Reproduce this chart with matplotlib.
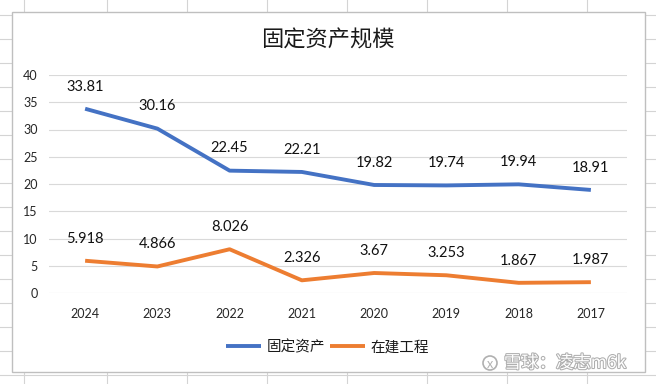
import matplotlib
matplotlib.use("Agg")
import matplotlib.pyplot as plt
from matplotlib.lines import Line2D
from matplotlib.patches import Rectangle, Ellipse
import matplotlib.patheffects as pe

plt.rcParams['font.family'] = ['Lato', 'Noto Sans CJK SC', 'DejaVu Sans']

# data
years = ['2024', '2023', '2022', '2021', '2020', '2019', '2018', '2017']
fixed_assets = [33.81, 30.16, 22.45, 22.21, 19.82, 19.74, 19.94, 18.91]
construction = [5.918, 4.866, 8.026, 2.326, 3.67, 3.253, 1.867, 1.987]
fixed_labels = ['33.81', '30.16', '22.45', '22.21', '19.82', '19.74', '19.94', '18.91']
constr_labels = ['5.918', '4.866', '8.026', '2.326', '3.67', '3.253', '1.867', '1.987']
y_ticks = [0, 5, 10, 15, 20, 25, 30, 35, 40]

W, H = 656, 384
BLUE = '#4472C4'
ORANGE = '#ED7D31'
CJK = ['Noto Sans CJK SC', 'DejaVu Sans']


def fx(px):
    return px / W


def fy(py):
    return 1 - py / H


fig = plt.figure(figsize=(W / 100, H / 100), dpi=100)
fig.patch.set_facecolor('white')

# spreadsheet cells behind the chart
for cx in [24, 107, 187, 267, 347, 427, 507, 587]:
    fig.add_artist(Line2D([fx(cx), fx(cx)], [0, 1], color='#D4D4D4', lw=0.8,
                          transform=fig.transFigure, zorder=-3))
for cy in range(15, H, 24):
    fig.add_artist(Line2D([0, 1], [fy(cy), fy(cy)], color='#D4D4D4', lw=0.8,
                          transform=fig.transFigure, zorder=-3))

# chart area
fig.add_artist(Rectangle((fx(12), fy(372)), fx(645) - fx(12), fy(12) - fy(372),
                         facecolor='white', edgecolor='#BFBFBF', lw=1.0,
                         transform=fig.transFigure, zorder=-2))

ax = fig.add_axes([fx(49), fy(293), fx(627) - fx(49), fy(75) - fy(293)])
ax.set_facecolor('none')
ax.set_zorder(1)

x = list(range(len(years)))
ax.plot(x, fixed_assets, color=BLUE, lw=2.8, solid_capstyle='butt', label='固定资产')
ax.plot(x, construction, color=ORANGE, lw=2.8, solid_capstyle='butt', label='在建工程')

for xi, v, s in zip(x, fixed_assets, fixed_labels):
    ax.annotate(s, (xi, v), xytext=(0, 16), textcoords='offset points',
                ha='center', va='center', fontsize=10.5, color='#111111')
for xi, v, s in zip(x, construction, constr_labels):
    ax.annotate(s, (xi, v), xytext=(0, 16), textcoords='offset points',
                ha='center', va='center', fontsize=10.5, color='#111111')

ax.set_xlim(-0.5, len(years) - 0.5)
ax.set_ylim(0, 40)
ax.set_yticks(y_ticks)
ax.set_xticks(x)
ax.set_xticklabels(years)
ax.tick_params(axis='both', length=0, labelsize=9, labelcolor='#262626')
ax.tick_params(axis='y', pad=8)
ax.tick_params(axis='x', pad=11)
ax.grid(axis='y', color='#D9D9D9', lw=0.8)
ax.set_axisbelow(True)
for sp in ax.spines.values():
    sp.set_visible(False)

fig.text(fx(328), fy(40), '固定资产规模', ha='center', va='center',
         fontsize=16, color='#1a1a1a', family=CJK)

leg = ax.legend(loc='center', bbox_to_anchor=(fx(327.5), fy(347)),
                bbox_transform=fig.transFigure, ncol=2, frameon=False,
                prop={'family': CJK, 'size': 10.5}, handlelength=2.4,
                handletextpad=0.4, columnspacing=0.3)
for t in leg.get_texts():
    t.set_color('#1a1a1a')

# watermark
fig.add_artist(Ellipse((fx(490), fy(363)), 14 / W, 14 / H, facecolor='white',
                       edgecolor='#B0B0B0', lw=1.2, transform=fig.transFigure, zorder=5))
fig.text(fx(490), fy(363.5), 'x', ha='center', va='center', fontsize=9,
         color='#B0B0B0', zorder=6)
fig.text(fx(504), fy(363), '雪球：凌志m6k', ha='left', va='center', fontsize=12.5,
         color='white', family=CJK, zorder=6,
         path_effects=[pe.withStroke(linewidth=1.5, foreground='#AFAFAF')])

fig.savefig('out.png', dpi=100)
